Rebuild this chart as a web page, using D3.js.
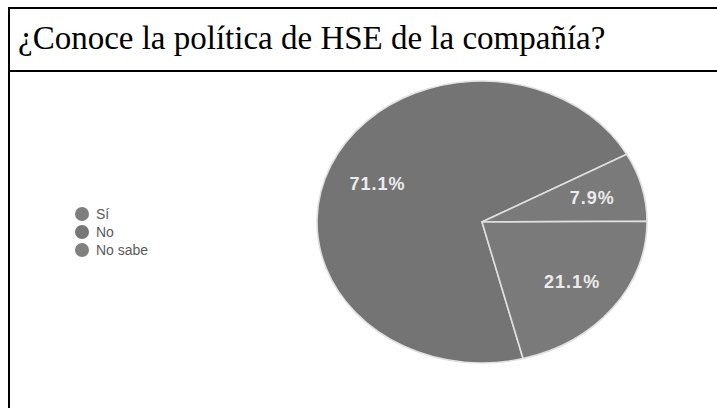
<!DOCTYPE html>
<html>
<head>
<meta charset="utf-8">
<script src="https://cdn.jsdelivr.net/npm/d3@7"></script>
<style>
  html, body { margin: 0; padding: 0; background: #fff; }
  svg { display: block; }
</style>
</head>
<body>
<svg id="chart"></svg>
<script>
// chart data
const title = "¿Conoce la política de HSE de la compañía?"
const categories = ["Sí", "No", "No sabe"]
const values = [71.1, 7.9, 21.1]
const labels = ["71.1%", "7.9%", "21.1%"]
const sliceColors = ["#747474", "#7a7a7a", "#7a7a7a"]
const legendColors = ["#7e7e7e", "#777777", "#808080"]

const svgWidth = 717
const svgHeight = 408

const svg = d3.select("#chart")
    .attr("width", svgWidth)
    .attr("height", svgHeight)

// table-like frame
svg.append("rect")
    .attr("x", 9).attr("y", 8)
    .attr("width", 740).attr("height", 420)
    .attr("fill", "none")
    .attr("stroke", "#000")
    .attr("stroke-width", 2)

svg.append("line")
    .attr("x1", 9).attr("x2", 717)
    .attr("y1", 71).attr("y2", 71)
    .attr("stroke", "#000")
    .attr("stroke-width", 2)

svg.append("text")
    .attr("x", 18)
    .attr("y", 49)
    .attr("font-family", "'Liberation Serif', 'Times New Roman', serif")
    .attr("font-size", 33)
    .attr("fill", "#000")
    .text(title)

// pie, squashed into an ellipse
const cx = 482, cy = 222, rx = 165, ry = 141

const pie = d3.pie()
    .sort(null)
    .startAngle(165.6 * Math.PI / 180)
    .endAngle(165.6 * Math.PI / 180 + 2 * Math.PI)

const arcs = pie(values)
const arc = d3.arc().innerRadius(0).outerRadius(rx)
const labelArc = d3.arc().innerRadius(rx * 0.69).outerRadius(rx * 0.69)

const g = svg.append("g")
    .attr("transform", `translate(${cx}, ${cy}) scale(1, ${ry / rx})`)

g.selectAll("path")
    .data(arcs)
    .join("path")
        .attr("d", arc)
        .attr("fill", (d, i) => sliceColors[i])
        .attr("stroke", "#e0e0e0")
        .attr("stroke-width", 1.6)
        .attr("vector-effect", "non-scaling-stroke")

svg.append("g")
    .attr("transform", `translate(${cx}, ${cy})`)
    .selectAll("text")
    .data(arcs)
    .join("text")
        .attr("x", d => labelArc.centroid(d)[0])
        .attr("y", d => labelArc.centroid(d)[1] * ry / rx)
        .attr("dy", "0.35em")
        .attr("text-anchor", "middle")
        .attr("font-family", "'Liberation Sans', Arial, sans-serif")
        .attr("font-size", 18)
        .attr("font-weight", "bold")
        .attr("letter-spacing", 1)
        .attr("fill", "#ececec")
        .text((d, i) => labels[i])

// legend
const legend = svg.append("g")
    .selectAll("g")
    .data(categories)
    .join("g")
        .attr("transform", (d, i) => `translate(82, ${214 + i * 18})`)

legend.append("circle")
    .attr("r", 7)
    .attr("fill", (d, i) => legendColors[i])

legend.append("text")
    .attr("x", 14)
    .attr("dy", "0.35em")
    .attr("font-family", "'Liberation Sans', Arial, sans-serif")
    .attr("font-size", 14)
    .attr("fill", "#5a5a5a")
    .text(d => d)
</script>
</body>
</html>
